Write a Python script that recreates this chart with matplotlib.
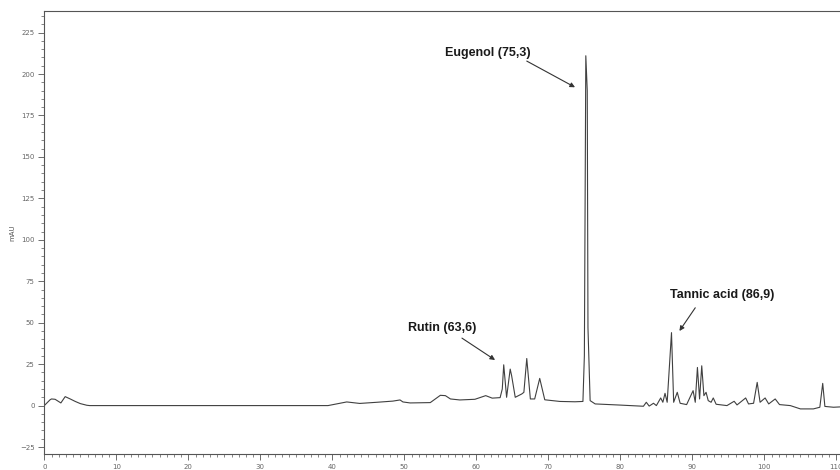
import matplotlib
matplotlib.use("Agg")
import matplotlib.pyplot as plt
from matplotlib.ticker import MultipleLocator

# Chromatogram trace vertices (retention time, min ; signal, mAU)
time_min = [0.0, 0.8, 1.0, 1.5, 2.3, 2.9, 3.6, 4.3, 5.0, 5.9, 6.3, 39.4,
            42.0, 43.8, 46.2, 48.4, 49.4, 49.8, 50.8, 53.6, 54.3, 55.0, 55.7,
            56.4, 57.7, 59.8, 61.3, 62.2, 63.3, 63.6, 63.8, 64.2, 64.7, 64.9,
            65.4, 66.3, 66.6, 67.0, 67.5, 68.1, 68.8, 69.5, 71.6, 73.7, 74.8,
            75.0, 75.2, 75.4, 75.5, 75.8, 76.5, 80.0, 83.2, 83.6, 84.0, 84.6,
            85.0, 85.6, 85.9, 86.2, 86.5, 87.1, 87.4, 87.9, 88.3, 89.2, 90.1,
            90.4, 90.7, 91.0, 91.3, 91.6, 91.9, 92.2, 92.6, 92.9, 93.3, 94.8,
            95.8, 96.2, 97.4, 97.8, 98.5, 99.0, 99.4, 100.1, 100.6, 101.5,
            102.1, 103.6, 105.0, 106.8, 107.7, 108.1, 108.4, 109.6, 110.5]
signal_mau = [0.0, 3.5, 4.0, 3.8, 1.6, 5.4, 4.0, 2.5, 1.2, 0.2, 0.0, 0.0,
              2.2, 1.3, 2.0, 2.7, 3.4, 2.2, 1.6, 1.8, 4.0, 6.2, 6.0,
              4.0, 3.4, 3.8, 6.0, 4.5, 4.8, 10.0, 24.6, 5.0, 22.0, 18.0,
              5.0, 7.0, 8.0, 28.4, 4.0, 4.0, 16.4, 3.5, 2.5, 2.3, 2.5,
              30.0, 211.0, 190.0, 47.0, 3.0, 1.0, 0.3, -0.4, 2.0, -0.3, 1.4,
              0.0, 4.6, 2.0, 7.4, 2.0, 44.0, 2.0, 8.0, 1.4, 0.6, 9.0,
              2.0, 23.0, 4.0, 24.0, 6.0, 8.0, 3.0, 2.0, 4.6, 0.8, 0.0,
              2.6, 0.4, 4.6, 1.0, 1.4, 14.0, 2.0, 4.6, 1.0, 4.0,
              0.6, 0.0, -2.0, -2.0, -1.0, 13.4, -0.5, -1.0, -0.8]

# Peak annotations: label, text position, arrow tail, arrow tip
ann_labels = ["Eugenol (75,3)", "Rutin (63,6)", "Tannic acid (86,9)"]
ann_text_xy = [(61.6, 212.5), (55.2, 46.9), (94.2, 66.7)]
ann_tail_xy = [(67.0, 207.8), (58.0, 40.7), (90.4, 59.0)]
ann_tip_xy = [(73.7, 192.0), (62.6, 27.5), (88.2, 45.0)]

x_lim = (0, 110.5)
y_lim = (-29.2, 238)

fig = plt.figure(figsize=(8.4, 4.7), dpi=100)
ax = fig.add_axes([44.3 / 840, 16 / 470, 1 - 44.3 / 840, (454 - 11) / 470])

ax.plot(time_min, signal_mau, color="#404040", lw=0.8)

for lab, txy, tail, tip in zip(ann_labels, ann_text_xy, ann_tail_xy, ann_tip_xy):
    ax.text(txy[0], txy[1], lab, ha="center", va="center",
            fontsize=9, fontweight="bold", family="Liberation Sans", color="#1a1a1a")
    ax.annotate("", xy=tip, xytext=tail,
                arrowprops=dict(arrowstyle="-|>", color="#333333", lw=0.8,
                                mutation_scale=7, shrinkA=0, shrinkB=0))

ax.set_xlim(*x_lim)
ax.set_ylim(*y_lim)
ax.xaxis.set_major_locator(MultipleLocator(10))
ax.xaxis.set_minor_locator(MultipleLocator(1))
ax.yaxis.set_major_locator(MultipleLocator(25))
ax.yaxis.set_minor_locator(MultipleLocator(5))

for s in ["left", "bottom", "top"]:
    ax.spines[s].set_color("#555555")
    ax.spines[s].set_linewidth(0.8)
ax.spines["right"].set_visible(False)

ax.tick_params(axis="both", which="major", length=4, width=0.6, colors="#555555",
               labelsize=5, labelcolor="#666666", pad=3)
ax.tick_params(axis="both", which="minor", length=2, width=0.5, colors="#555555")

ax.set_ylabel("mAU", fontsize=5, color="#555555", labelpad=3)

fig.savefig("out.png", dpi=100)
